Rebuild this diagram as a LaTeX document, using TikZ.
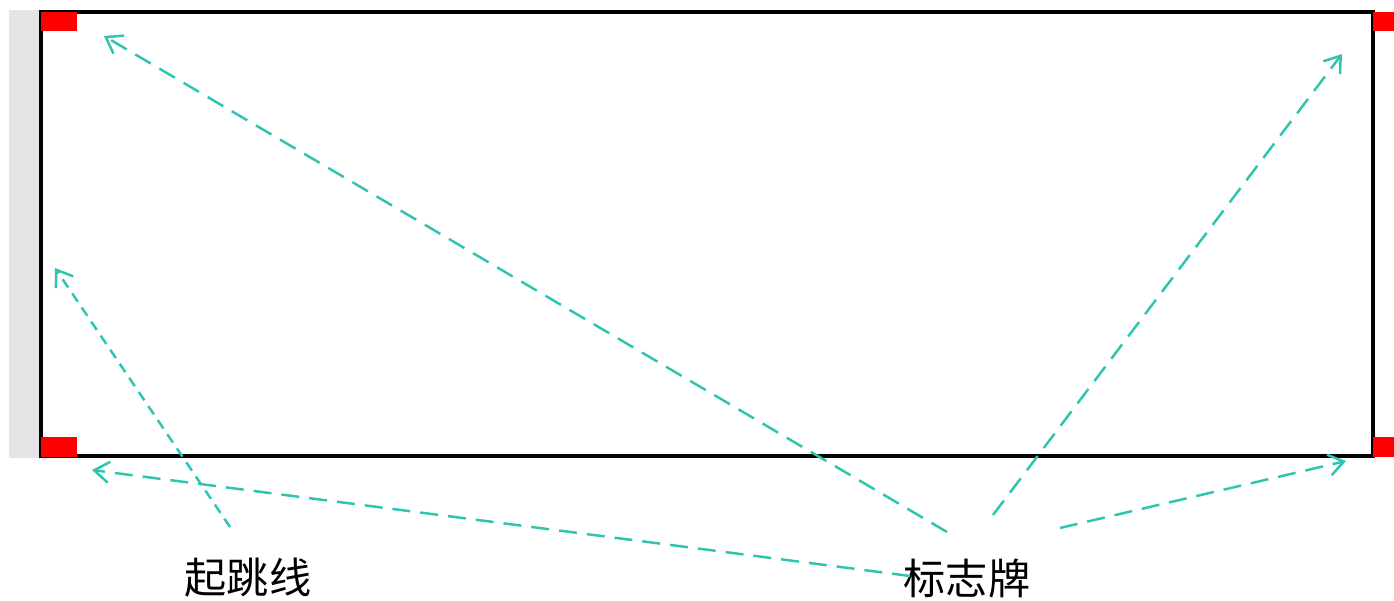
\documentclass[tikz,border=0pt]{standalone}
\usepackage{fontspec}
\newfontfamily\cjk{Noto Sans CJK SC}
\usetikzlibrary{arrows.meta,positioning}
\definecolor{pitteal}{RGB}{46,196,176}
\definecolor{stripgray}{RGB}{229,229,229}

\begin{document}
\begin{tikzpicture}[
    x=0.02cm, y=-0.02cm,
    marker/.style={fill=red, draw=none},
    pointer/.style={
        pitteal, line width=1.4pt, dash pattern=on 0.36cm off 0.2cm,
        -{Straight Barb[length=0.3cm, width=0.42cm, line width=1.4pt]}
    },
    label/.style={font=\cjk\fontsize{24}{27}\selectfont, inner sep=0pt}
]
\useasboundingbox (0,0) rectangle (1394,601);

% Pit and take-off strip
\fill[stripgray] (9,10) rectangle (41,458);
\draw[line width=2.2pt] (41,12) rectangle (1373,456);

% Markers
\fill[marker] (41,12) rectangle (77,31);
\fill[marker] (41,437) rectangle (77,457);
\fill[marker] (1373,12) rectangle (1394,31);
\fill[marker] (1373,437) rectangle (1394,457);

% Labels
\node[label] (takeoff) at (248,578) {起跳线};
\node[label] (signs)   at (967,578) {标志牌};

% Arrow ends
\coordinate (s1) at (947,532);  \coordinate (t1) at (104,36);
\coordinate (s2) at (993,515);  \coordinate (t2) at (1342,54);
\coordinate (s3) at (1060,528); \coordinate (t3) at (1346,461);
\coordinate (s4) at (910,576);  \coordinate (t4) at (92,470);
\coordinate (s5) at (230,527);  \coordinate (t5) at (55,268);

% Arrows
\draw[pointer] (s1) -- (t1);
\draw[pointer] (s2) -- (t2);
\draw[pointer] (s3) -- (t3);
\draw[pointer] (s4) -- (t4);
\draw[pointer, dash pattern=on 0.2cm off 0.14cm] (s5) -- (t5);

\end{tikzpicture}
\end{document}
